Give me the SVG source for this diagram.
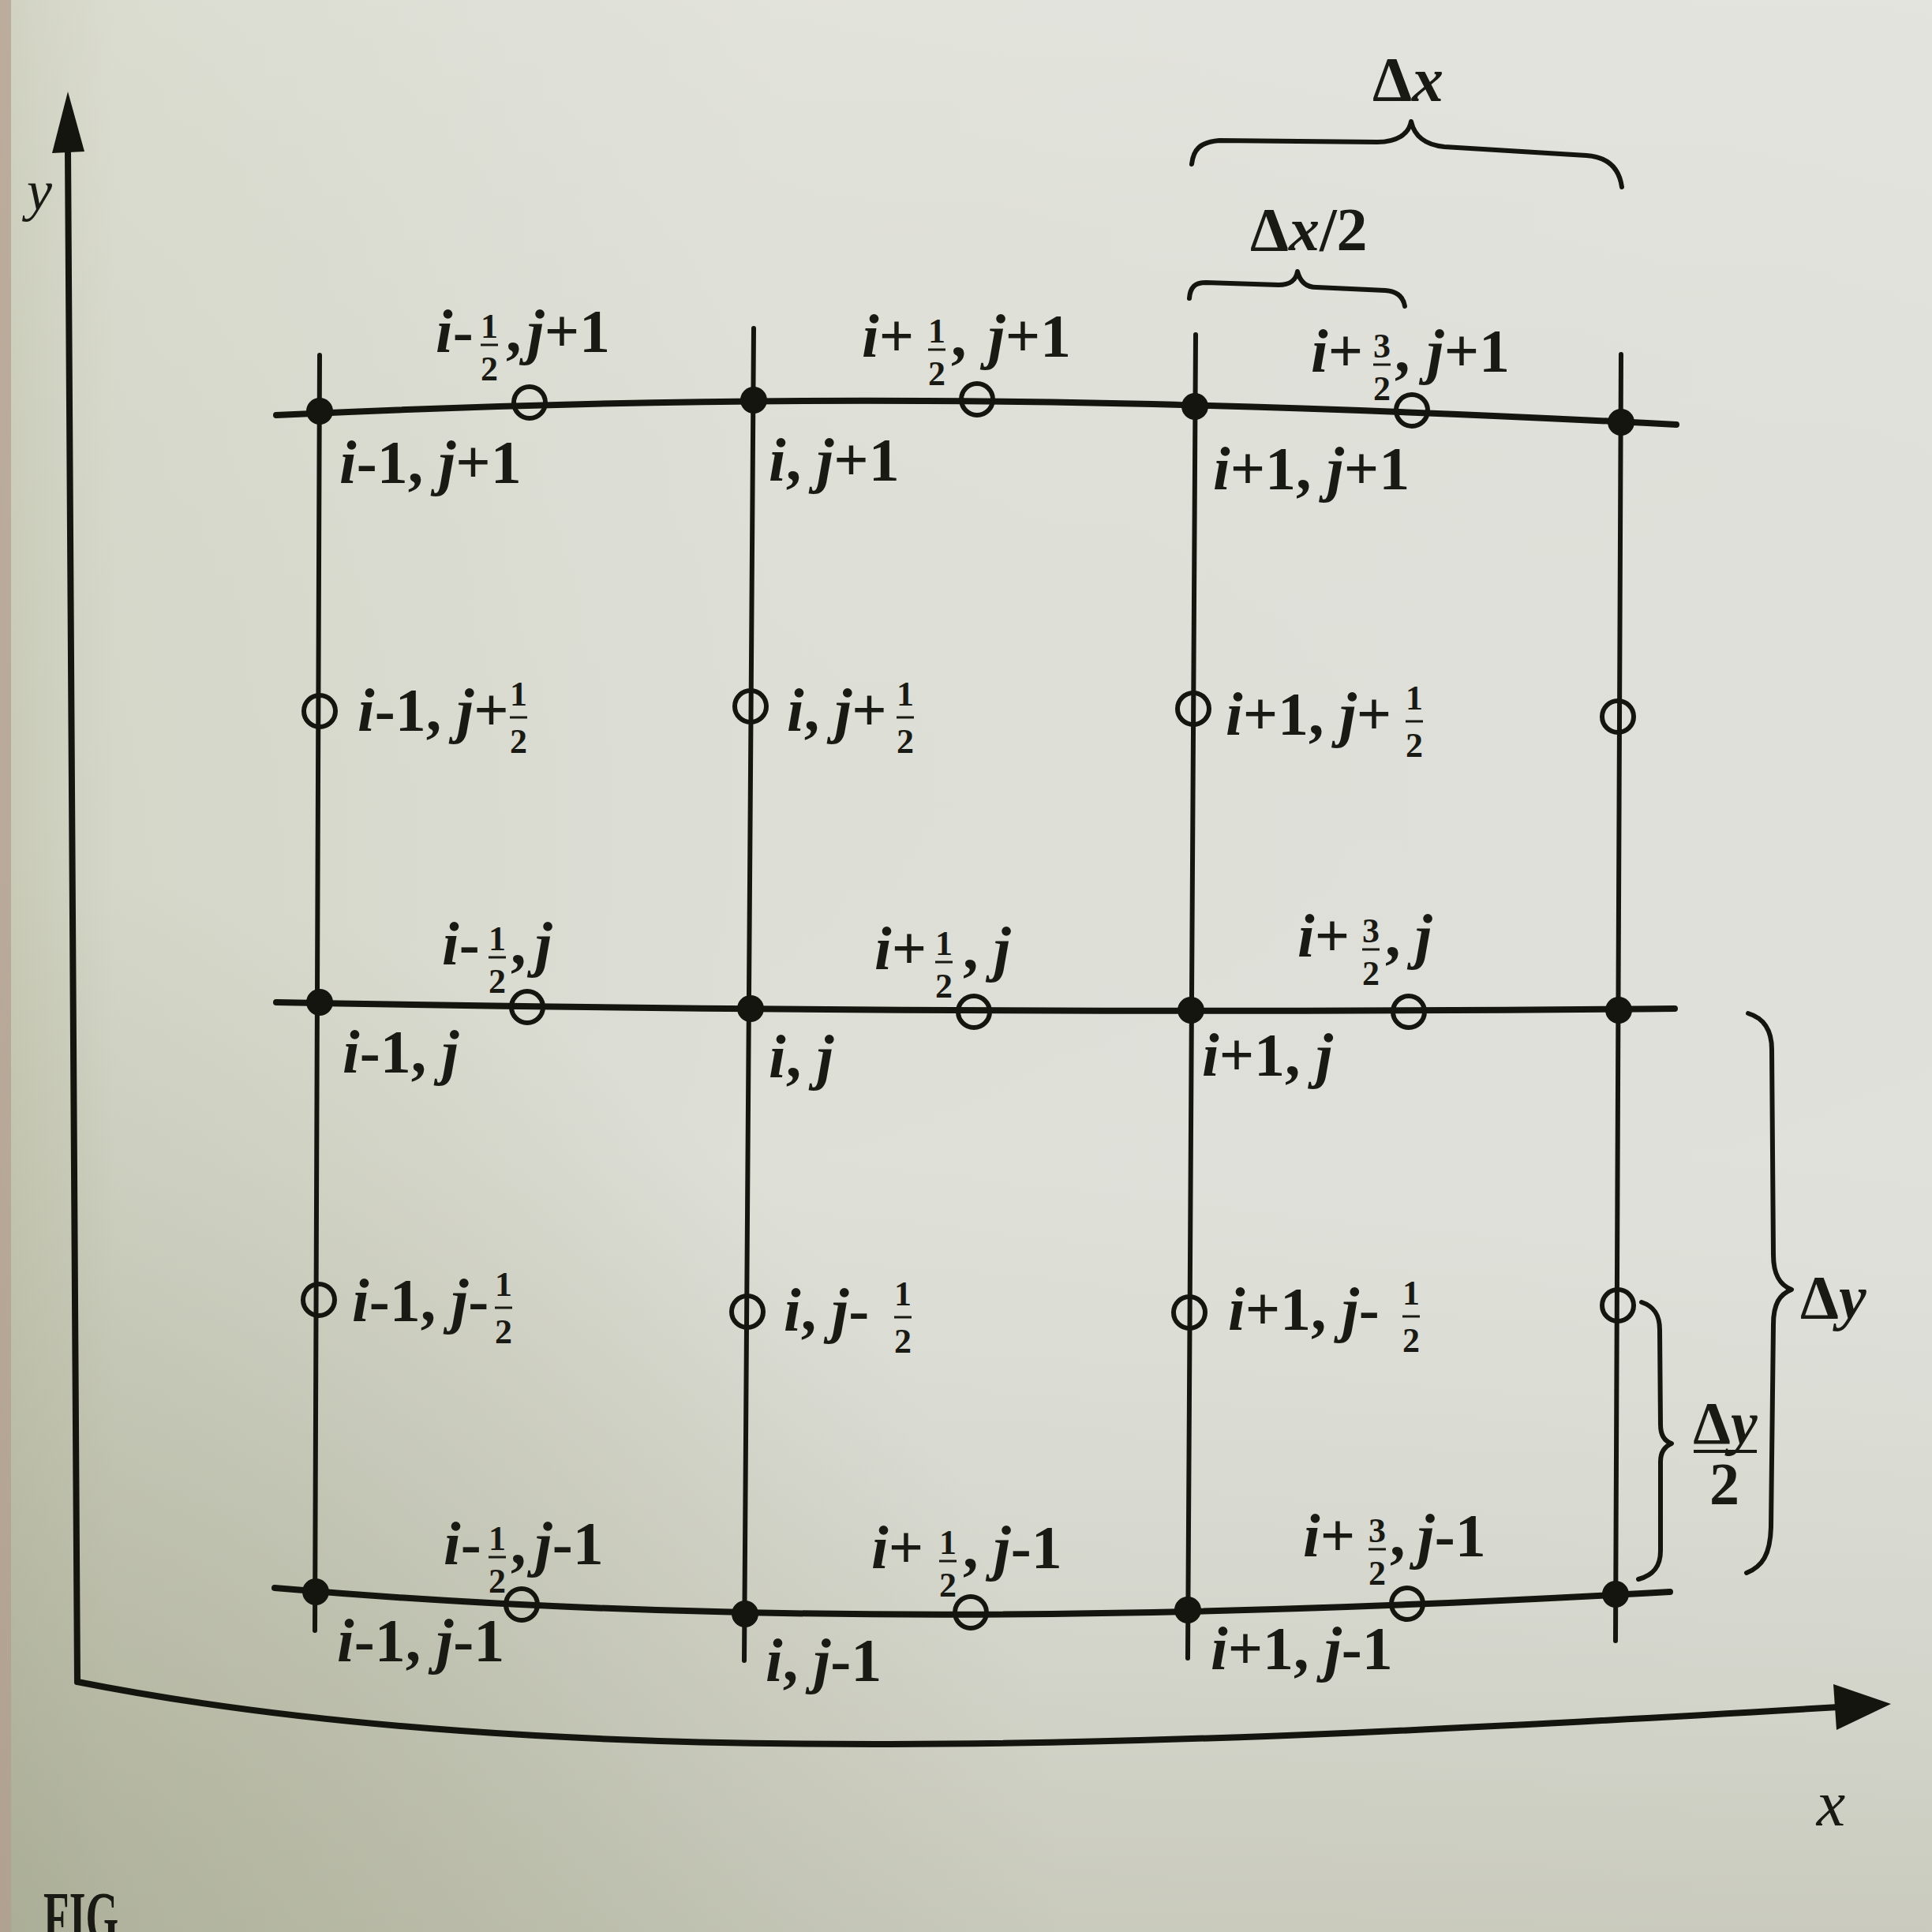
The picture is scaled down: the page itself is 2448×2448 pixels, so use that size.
<svg xmlns="http://www.w3.org/2000/svg" width="2448" height="2448" viewBox="0 0 2448 2448">
<defs>
<linearGradient id="paperH" x1="0" y1="0" x2="1" y2="0">
<stop offset="0" stop-color="#c7c9b4"/>
<stop offset="0.06" stop-color="#d5d7c9"/>
<stop offset="0.4" stop-color="#dedfd7"/>
<stop offset="1" stop-color="#e0e1db"/>
</linearGradient>
<linearGradient id="paperV" x1="0" y1="0" x2="0" y2="1">
<stop offset="0" stop-color="#ececE6" stop-opacity="0.25"/>
<stop offset="0.6" stop-color="#c8c9bc" stop-opacity="0"/>
<stop offset="1" stop-color="#aeb09a" stop-opacity="0.45"/>
</linearGradient>
<radialGradient id="corner" cx="0" cy="1" r="0.55">
<stop offset="0" stop-color="#a2a58c" stop-opacity="0.65"/>
<stop offset="1" stop-color="#a2a58c" stop-opacity="0"/>
</radialGradient>
<style>
.ink{stroke:#15150f;fill:none;stroke-linecap:round;stroke-linejoin:round}
.h{stroke-width:8}
.v{stroke-width:6}
.ax{stroke-width:8}
.br{stroke-width:6}
.dot{fill:#15150f}
.oc{fill:none;stroke:#15150f;stroke-width:6}
.lbl{font-family:"Liberation Serif","Times New Roman",serif;font-size:78px;font-weight:bold;fill:#1a1a14}
.fr{font-size:44px}
.sp{font-size:24px}
.it{font-style:italic}
.bar{stroke:#1a1a14;stroke-width:3}
.thin{font-weight:normal}
</style>
</defs>

<g id="background">
<rect x="0" y="0" width="2448" height="2448" fill="url(#paperH)"/>
<rect x="0" y="0" width="2448" height="2448" fill="url(#paperV)"/>
<rect x="0" y="0" width="2448" height="2448" fill="url(#corner)"/>
<rect x="0" y="0" width="14" height="2448" fill="#b29c8d" opacity="0.7"/>
</g>

<g id="axes">
<path class="ink ax" d="M98,2131 L86,190"/>
<polygon class="dot" points="86,116 66,194 107,192"/>
<path class="ink ax" d="M98,2131 C700,2250 1500,2212 2330,2163"/>
<polygon class="dot" points="2396,2159 2323,2134 2327,2192"/>
<text class="lbl it thin" x="50" y="266" text-anchor="middle" style="font-size:72px">y</text>
<text class="lbl it thin" x="2320" y="2313" text-anchor="middle" style="font-size:82px">x</text>
</g>

<g id="connectors">
<path class="ink h" d="M350,526 C900,500 1400,500 2124,538"/>
<path class="ink h" d="M350,1270 C900,1280 1500,1284 2122,1278"/>
<path class="ink h" d="M348,2012 C900,2060 1500,2052 2116,2017"/>
<path class="ink v" d="M405,450 L399,2066"/>
<path class="ink v" d="M955,416 L943,2104"/>
<path class="ink v" d="M1515,424 L1505,2101"/>
<path class="ink v" d="M2054,449 L2047,2079"/>
</g>

<!-- row j+1 -->
<g id="node-im1-jp1"><circle class="dot" cx="405" cy="521" r="17"/>
<text class="lbl" x="430" y="612"><tspan class="it">i</tspan>-1, <tspan class="it">j</tspan>+1</text></g>
<g id="node-i-jp1"><circle class="dot" cx="955" cy="507" r="17"/>
<text class="lbl" x="974" y="609"><tspan class="it">i</tspan>, <tspan class="it">j</tspan>+1</text></g>
<g id="node-ip1-jp1"><circle class="dot" cx="1514" cy="515" r="17"/>
<text class="lbl" x="1537" y="620"><tspan class="it">i</tspan>+1, <tspan class="it">j</tspan>+1</text></g>
<g id="node-ip2-jp1"><circle class="dot" cx="2054" cy="535" r="17"/></g>

<g id="node-imh-jp1"><circle class="oc" cx="671" cy="510" r="20"/>
<line class="bar" x1="609" y1="437" x2="631" y2="437"/>
<text class="lbl" x="552" y="446"><tspan class="it">i</tspan>-<tspan class="fr" x="609" y="428">1</tspan><tspan class="fr" x="609" y="482">2</tspan><tspan x="641" y="446">,</tspan><tspan class="sp"> </tspan><tspan class="it" x="668">j</tspan>+1</text></g>
<g id="node-iph-jp1"><circle class="oc" cx="1238" cy="506" r="20"/>
<line class="bar" x1="1176" y1="443" x2="1198" y2="443"/>
<text class="lbl" x="1092" y="452"><tspan class="it">i</tspan>+<tspan class="fr" x="1176" y="434">1</tspan><tspan class="fr" x="1176" y="488">2</tspan><tspan x="1205" y="452">,</tspan><tspan class="sp"> </tspan><tspan class="it" x="1252">j</tspan>+1</text></g>
<g id="node-ip3h-jp1"><circle class="oc" cx="1789" cy="520" r="20"/>
<line class="bar" x1="1740" y1="462" x2="1762" y2="462"/>
<text class="lbl" x="1661" y="471"><tspan class="it">i</tspan>+<tspan class="fr" x="1740" y="453">3</tspan><tspan class="fr" x="1740" y="507">2</tspan><tspan x="1767" y="471">,</tspan><tspan class="sp"> </tspan><tspan class="it" x="1808">j</tspan>+1</text></g>

<!-- row j+1/2 -->
<g id="node-im1-jph"><circle class="oc" cx="405" cy="901" r="20"/>
<line class="bar" x1="646" y1="909" x2="668" y2="909"/>
<text class="lbl" x="453" y="926"><tspan class="it">i</tspan>-1, <tspan class="it">j</tspan>+<tspan class="fr" x="646" y="894">1</tspan><tspan class="fr" x="646" y="954">2</tspan></text></g>
<g id="node-i-jph"><circle class="oc" cx="951" cy="895" r="20"/>
<line class="bar" x1="1136" y1="909" x2="1158" y2="909"/>
<text class="lbl" x="997" y="926"><tspan class="it">i</tspan>, <tspan class="it">j</tspan>+<tspan class="fr" x="1136" y="894">1</tspan><tspan class="fr" x="1136" y="954">2</tspan></text></g>
<g id="node-ip1-jph"><circle class="oc" cx="1512" cy="898" r="20"/>
<line class="bar" x1="1781" y1="914" x2="1803" y2="914"/>
<text class="lbl" x="1553" y="931"><tspan class="it">i</tspan>+1, <tspan class="it">j</tspan>+<tspan class="fr" x="1781" y="899">1</tspan><tspan class="fr" x="1781" y="959">2</tspan></text></g>
<g id="node-ip2-jph"><circle class="oc" cx="2050" cy="908" r="20"/></g>

<!-- row j -->
<g id="node-im1-j"><circle class="dot" cx="405" cy="1270" r="17"/>
<text class="lbl" x="434" y="1359"><tspan class="it">i</tspan>-1, <tspan class="it">j</tspan></text></g>
<g id="node-i-j"><circle class="dot" cx="951" cy="1278" r="17"/>
<text class="lbl" x="974" y="1365"><tspan class="it">i</tspan>, <tspan class="it">j</tspan></text></g>
<g id="node-ip1-j"><circle class="dot" cx="1509" cy="1280" r="17"/>
<text class="lbl" x="1523" y="1363"><tspan class="it">i</tspan>+1, <tspan class="it">j</tspan></text></g>
<g id="node-ip2-j"><circle class="dot" cx="2051" cy="1280" r="17"/></g>

<g id="node-imh-j"><circle class="oc" cx="668" cy="1276" r="20"/>
<line class="bar" x1="619" y1="1213" x2="641" y2="1213"/>
<text class="lbl" x="560" y="1222"><tspan class="it">i</tspan>-<tspan class="fr" x="619" y="1204">1</tspan><tspan class="fr" x="619" y="1258">2</tspan><tspan x="647" y="1222">,</tspan><tspan class="sp"> </tspan><tspan class="it" x="678">j</tspan></text></g>
<g id="node-iph-j"><circle class="oc" cx="1234" cy="1282" r="20"/>
<line class="bar" x1="1185" y1="1219" x2="1207" y2="1219"/>
<text class="lbl" x="1108" y="1228"><tspan class="it">i</tspan>+<tspan class="fr" x="1185" y="1210">1</tspan><tspan class="fr" x="1185" y="1264">2</tspan><tspan x="1220" y="1228">,</tspan><tspan class="sp"> </tspan><tspan class="it" x="1259">j</tspan></text></g>
<g id="node-ip3h-j"><circle class="oc" cx="1785" cy="1282" r="20"/>
<line class="bar" x1="1726" y1="1203" x2="1748" y2="1203"/>
<text class="lbl" x="1644" y="1212"><tspan class="it">i</tspan>+<tspan class="fr" x="1726" y="1194">3</tspan><tspan class="fr" x="1726" y="1248">2</tspan><tspan x="1755" y="1212">,</tspan><tspan class="sp"> </tspan><tspan class="it" x="1793">j</tspan></text></g>

<!-- row j-1/2 -->
<g id="node-im1-jmh"><circle class="oc" cx="404" cy="1647" r="20"/>
<line class="bar" x1="627" y1="1657" x2="649" y2="1657"/>
<text class="lbl" x="446" y="1674"><tspan class="it">i</tspan>-1, <tspan class="it">j</tspan>-<tspan class="fr" x="627" y="1642">1</tspan><tspan class="fr" x="627" y="1702">2</tspan></text></g>
<g id="node-i-jmh"><circle class="oc" cx="947" cy="1662" r="20"/>
<line class="bar" x1="1133" y1="1669" x2="1155" y2="1669"/>
<text class="lbl" x="993" y="1686"><tspan class="it">i</tspan>, <tspan class="it">j</tspan>- <tspan class="fr" x="1133" y="1654">1</tspan><tspan class="fr" x="1133" y="1714">2</tspan></text></g>
<g id="node-ip1-jmh"><circle class="oc" cx="1507" cy="1663" r="20"/>
<line class="bar" x1="1777" y1="1668" x2="1799" y2="1668"/>
<text class="lbl" x="1556" y="1685"><tspan class="it">i</tspan>+1, <tspan class="it">j</tspan>- <tspan class="fr" x="1777" y="1653">1</tspan><tspan class="fr" x="1777" y="1713">2</tspan></text></g>
<g id="node-ip2-jmh"><circle class="oc" cx="2050" cy="1654" r="20"/></g>

<!-- row j-1 -->
<g id="node-im1-jm1"><circle class="dot" cx="400" cy="2017" r="17"/>
<text class="lbl" x="427" y="2105"><tspan class="it">i</tspan>-1, <tspan class="it">j</tspan>-1</text></g>
<g id="node-i-jm1"><circle class="dot" cx="944" cy="2045" r="17"/>
<text class="lbl" x="970" y="2130"><tspan class="it">i</tspan>, <tspan class="it">j</tspan>-1</text></g>
<g id="node-ip1-jm1"><circle class="dot" cx="1505" cy="2040" r="17"/>
<text class="lbl" x="1534" y="2115"><tspan class="it">i</tspan>+1, <tspan class="it">j</tspan>-1</text></g>
<g id="node-ip2-jm1"><circle class="dot" cx="2047" cy="2020" r="17"/></g>

<g id="node-imh-jm1"><circle class="oc" cx="661" cy="2033" r="20"/>
<line class="bar" x1="619" y1="1973" x2="641" y2="1973"/>
<text class="lbl" x="562" y="1982"><tspan class="it">i</tspan>-<tspan class="fr" x="619" y="1964">1</tspan><tspan class="fr" x="619" y="2018">2</tspan><tspan x="647" y="1982">,</tspan><tspan class="sp"> </tspan><tspan class="it" x="678">j</tspan>-1</text></g>
<g id="node-iph-jm1"><circle class="oc" cx="1230" cy="2043" r="20"/>
<line class="bar" x1="1190" y1="1978" x2="1212" y2="1978"/>
<text class="lbl" x="1104" y="1987"><tspan class="it">i</tspan>+<tspan class="fr" x="1190" y="1969">1</tspan><tspan class="fr" x="1190" y="2023">2</tspan><tspan x="1220" y="1987">,</tspan><tspan class="sp"> </tspan><tspan class="it" x="1259">j</tspan>-1</text></g>
<g id="node-ip3h-jm1"><circle class="oc" cx="1783" cy="2032" r="20"/>
<line class="bar" x1="1734" y1="1963" x2="1756" y2="1963"/>
<text class="lbl" x="1651" y="1972"><tspan class="it">i</tspan>+<tspan class="fr" x="1734" y="1954">3</tspan><tspan class="fr" x="1734" y="2008">2</tspan><tspan x="1761" y="1972">,</tspan><tspan class="sp"> </tspan><tspan class="it" x="1796">j</tspan>-1</text></g>

<g id="dimensions">
<path class="ink br" d="M1510,208 C1512,190 1520,180 1545,178 L1745,180 C1770,180 1785,170 1788,154 C1792,172 1806,184 1830,186 L2010,197 C2040,199 2052,215 2055,237"/>
<text class="lbl" x="1784" y="128" text-anchor="middle" style="font-size:80px">Δ<tspan class="it">x</tspan></text>
<path class="ink br" d="M1507,378 C1508,364 1514,358 1528,358 L1620,361 C1635,361 1642,355 1644,344 C1647,356 1654,364 1668,364 L1755,368 C1770,369 1778,376 1780,388"/>
<text class="lbl" x="1584" y="317" style="font-size:78px">Δ<tspan class="it">x</tspan>/2</text>
<path class="ink br" d="M2215,1284 C2235,1290 2245,1305 2245,1330 L2247,1590 C2247,1615 2255,1628 2270,1634 C2255,1640 2247,1652 2247,1678 L2244,1935 C2243,1970 2233,1985 2213,1993"/>
<text class="lbl" x="2281" y="1670" style="font-size:78px">Δ<tspan class="it">y</tspan></text>
<path class="ink br" d="M2080,1650 C2095,1655 2103,1665 2103,1685 L2104,1805 C2104,1818 2109,1826 2118,1829 C2109,1833 2104,1840 2104,1852 L2104,1965 C2104,1985 2095,1996 2076,2001"/>
<text class="lbl" x="2186" y="1829" text-anchor="middle" style="font-size:76px">Δ<tspan class="it">y</tspan></text>
<line class="bar" x1="2146" y1="1839" x2="2226" y2="1839" style="stroke-width:4"/>
<text class="lbl" x="2185" y="1906" text-anchor="middle" style="font-size:76px">2</text>
</g>

<g id="caption">
<text class="lbl" x="55" y="2460" textLength="95" lengthAdjust="spacingAndGlyphs" style="font-size:90px">FIG</text>
</g>
</svg>
